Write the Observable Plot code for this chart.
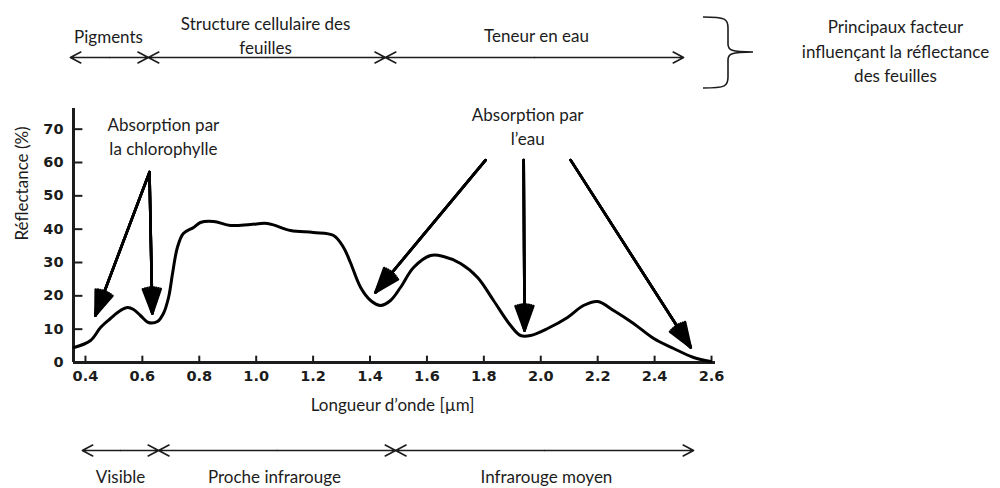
<!DOCTYPE html>
<html>
<head>
<meta charset="utf-8">
<script src="https://cdn.jsdelivr.net/npm/d3@7"></script>
<script src="https://cdn.jsdelivr.net/npm/@observablehq/plot@0.6"></script>
<style>
  html, body { margin: 0; padding: 0; background: #fff; }
  #chart { width: 1000px; height: 488px; overflow: hidden; }
</style>
</head>
<body>
<div id="chart"></div>
<script>
// ---- Data ----
const wavelength = [0.36, 0.418, 0.453, 0.488, 0.523, 0.548, 0.569, 0.593, 0.621, 0.653, 0.674, 0.692, 0.706, 0.723, 0.744, 0.780, 0.804, 0.850, 0.910, 0.980, 1.040, 1.121, 1.201, 1.272, 1.307, 1.331, 1.367, 1.402, 1.437, 1.472, 1.507, 1.553, 1.613, 1.658, 1.718, 1.778, 1.834, 1.894, 1.929, 1.964, 2.024, 2.094, 2.150, 2.200, 2.256, 2.326, 2.397, 2.467, 2.537, 2.597];
const reflectance = [4.5, 6.6, 10.5, 13.2, 15.6, 16.5, 15.9, 14.1, 12.0, 12.3, 14.7, 19.5, 26.7, 34.5, 38.7, 40.5, 42.0, 42.3, 41.1, 41.4, 41.7, 39.6, 39.0, 38.1, 34.5, 30.0, 22.5, 18.6, 17.1, 18.6, 22.5, 28.5, 32.1, 31.8, 29.7, 25.5, 18.6, 11.1, 8.1, 8.1, 10.2, 13.5, 17.1, 18.3, 15.6, 11.7, 7.2, 4.2, 1.5, 0.3];

const xTicks = [0.4, 0.6, 0.8, 1.0, 1.2, 1.4, 1.6, 1.8, 2.0, 2.2, 2.4, 2.6];
const yTicks = [0, 10, 20, 30, 40, 50, 60, 70];
const xDomain = [0.358, 2.614];
const yDomain = [0, 76.2];

// Factors influencing leaf reflectance (top band)
const factorBounds = [0.347, 0.621, 1.454, 2.502];
const factorLabels = ["Pigments", "Structure cellulaire des\nfeuilles", "Teneur en eau"];
const factorLabelX = [0.481, 1.033, 1.985];
const factorTitle = "Principaux facteur\ninfluençant la réflectance\ndes feuilles";

// Spectral domains (bottom band)
const domainBounds = [0.389, 0.657, 1.490, 2.537];
const domainLabels = ["Visible", "Proche infrarouge", "Infrarouge moyen"];
const domainLabelX = [0.523, 1.064, 2.020];

// Absorption arrows
const absFromX = [0.625, 0.625, 1.806, 1.940, 2.105];
const absFromY = [57.1, 57.1, 60.7, 60.7, 60.7];
const absToX   = [0.435, 0.635, 1.419, 1.943, 2.527];
const absToY   = [14.1, 14.7, 21.0, 9.6, 4.5];
const absLabels = ["Absorption par\nla chlorophylle", "Absorption par\nl’eau"];
const absLabelX = [0.674, 1.954];
const absLabelY = [68.2, 71.2];

const xLabel = "Longueur d’onde [µm]";
const yLabel = "Réflectance (%)";

// ---- Build tables ----
const curve = wavelength.map((w, i) => ({w, r: reflectance[i]}));
const absArrows = absFromX.map((x1, i) => ({x1, y1: absFromY[i], x2: absToX[i], y2: absToY[i]}));
const absText = absLabels.map((t, i) => ({t, x: absLabelX[i], y: absLabelY[i]}));
function doubleArrows(bounds) {
  const out = [];
  for (let i = 0; i < bounds.length - 1; i++) {
    const mid = (bounds[i] + bounds[i + 1]) / 2;
    out.push({x1: mid, x2: bounds[i]}, {x1: mid, x2: bounds[i + 1]});
  }
  return out;
}
const factorArrows = doubleArrows(factorBounds);
const domainArrows = doubleArrows(domainBounds);
const factorText = factorLabels.map((t, i) => ({t, x: factorLabelX[i]}));
const domainText = domainLabels.map((t, i) => ({t, x: domainLabelX[i]}));

const textFont = "Lato, 'Open Sans', sans-serif";
const tickFont = "'DejaVu Sans', sans-serif";
const ink = "#1c1c1c";
const fs = 17;

// Curly brace (decoration) drawn relative to the frame
function brace(index, scales, values, dims) {
  const r = dims.width - dims.marginRight; // frame right edge
  const x0 = r - 12, xs = r + 13, xp = r + 38;
  const d = `M${x0},17 C${xs - 2},17 ${xs},19 ${xs},28 L${xs},44 C${xs},50 ${xs + 3},52 ${xp},52 ` +
            `M${x0},88 C${xs - 2},88 ${xs},86 ${xs},77 L${xs},60 C${xs},54 ${xs + 3},52 ${xp},52`;
  return d3.create("svg:path")
    .attr("d", d).attr("fill", "none").attr("stroke", ink).attr("stroke-width", 1.6)
    .node();
}

// filled-looking arrowheads: stacked heads of decreasing spread
const headAngles = [40, 30, 20, 10];
const absArrowMarks = headAngles.map((a) =>
  Plot.arrow(absArrows, {x1: "x1", y1: "y1", x2: "x2", y2: "y2", stroke: "#000",
    strokeWidth: 2.6, headLength: 15, headAngle: a}));

const chart = Plot.plot({
  width: 1000,
  height: 488,
  marginLeft: 73,
  marginRight: 285,
  marginTop: 108,
  marginBottom: 126,
  style: {fontFamily: textFont, background: "#fff", color: ink, overflow: "visible"},
  x: {domain: xDomain, axis: null},
  y: {domain: yDomain, axis: null},
  marks: [
    // axes
    Plot.ruleX([xDomain[0]], {stroke: ink, strokeWidth: 3}),
    Plot.ruleY([0], {stroke: ink, strokeWidth: 3}),
    Plot.ruleY(yTicks.slice(1), {x1: xDomain[0], x2: xDomain[0] + 0.033, stroke: ink, strokeWidth: 2}),
    Plot.ruleX(xTicks, {y1: 0, y2: 1.9, stroke: ink, strokeWidth: 2}),
    Plot.axisX(xTicks, {tickSize: 0, tickPadding: 8, tickFormat: d3.format(".1f"), label: null,
      fontFamily: tickFont, fontWeight: "bold", fontSize: 14.5, fill: ink}),
    Plot.axisY(yTicks, {tickSize: 0, tickPadding: 10, label: null,
      fontFamily: tickFont, fontWeight: "bold", fontSize: 14.5, fill: ink}),
    Plot.text([yLabel], {frameAnchor: "left", rotate: -90, dx: -51, dy: 5, fontSize: fs, fill: ink}),
    Plot.text([xLabel], {frameAnchor: "bottom", dx: -2, dy: 48, fontSize: fs, fill: ink}),

    // reflectance curve
    Plot.line(curve, {x: "w", y: "r", curve: "catmull-rom", stroke: "#000", strokeWidth: 3}),

    // absorption annotations
    ...absArrowMarks,
    Plot.text(absText, {x: "x", y: "y", text: "t", fontSize: fs, lineHeight: 1.45, fill: ink}),

    // top band: factors
    Plot.arrow(factorArrows, {x1: "x1", x2: "x2", y1: 0, y2: 0, dy: -305, stroke: ink,
      strokeWidth: 1.6, headLength: 11, headAngle: 55}),
    Plot.text(factorText.slice(0, 1), {x: "x", text: "t", frameAnchor: "top", dy: -71, lineAnchor: "middle",
      fontSize: fs, fill: ink}),
    Plot.text(factorText.slice(1), {x: "x", text: "t", frameAnchor: "top", dy: -74, lineAnchor: "middle",
      fontSize: fs, lineHeight: 1.42, fill: ink}),
    brace,
    Plot.text([factorTitle], {frameAnchor: "top-right", dx: 180, dy: -59, textAnchor: "middle",
      lineAnchor: "middle", fontSize: fs, lineHeight: 1.47, fill: ink}),

    // bottom band: spectral domains
    Plot.arrow(domainArrows, {x1: "x1", x2: "x2", y1: 0, y2: 0, dy: 88, stroke: ink,
      strokeWidth: 1.6, headLength: 11, headAngle: 55}),
    Plot.text(domainText, {x: "x", text: "t", frameAnchor: "bottom", dy: 115,
      lineAnchor: "middle", fontSize: fs, fill: ink})
  ]
});
document.getElementById("chart").appendChild(chart);
</script>
</body>
</html>
